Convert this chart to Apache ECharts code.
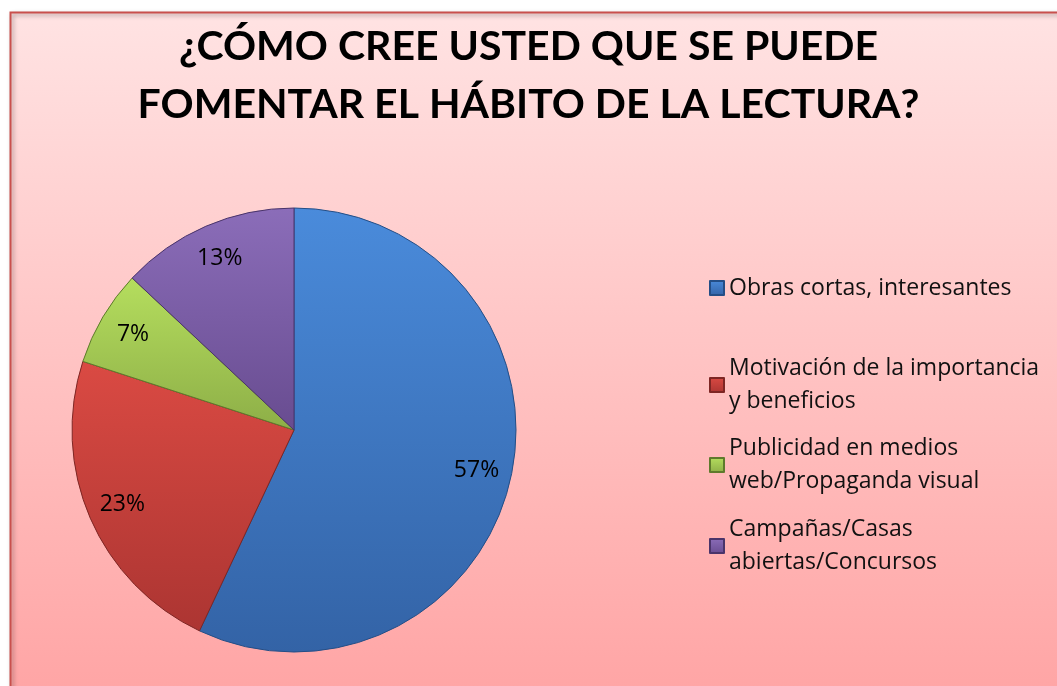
<!DOCTYPE html>
<html>
<head>
<meta charset="utf-8">
<script src="https://cdn.jsdelivr.net/npm/echarts@6/dist/echarts.min.js"></script>
<style>
html,body{margin:0;padding:0;background:#fff;}
#c{width:1057px;height:686px;}
</style>
</head>
<body>
<div id="c"></div>
<script>
var titleText = '¿CÓMO CREE USTED QUE SE PUEDE\nFOMENTAR EL HÁBITO DE LA LECTURA?';
var categories = [
  'Obras cortas, interesantes',
  'Motivación de la importancia\ny beneficios',
  'Publicidad en medios\nweb/Propaganda visual',
  'Campañas/Casas\nabiertas/Concursos'
];
var values = [57, 23, 7, 13];

var TFONT = 'Lato, "Open Sans", sans-serif';
var FONT = '"Open Sans", Lato, sans-serif';
var sliceColors = [
  ['#4A8BDB', '#3363A6', '#244E86'],
  ['#DA4A43', '#AC3532', '#7E2624'],
  ['#B5DE5E', '#8DAE47', '#5F7A2C'],
  ['#8B6DB9', '#684C90', '#4A346A']
];
function grad(c) {
  return new echarts.graphic.LinearGradient(0, 0, 0, 1, [
    {offset: 0, color: c[0]}, {offset: 1, color: c[1]}
  ]);
}
var pieData = categories.map(function (n, i) {
  return {name: n, value: values[i],
    itemStyle: {color: grad(sliceColors[i]), borderColor: sliceColors[i][2], borderWidth: 1}};
});
var labelData = categories.map(function (n, i) {
  return {name: n, value: values[i]};
});

// legend: first text line centre positions (layout)
var legendLineCenters = [286, 367, 447, 528];
var LH = 33;
var legends = categories.map(function (n, i) {
  var twoLine = n.indexOf('\n') >= 0;
  return {
    orient: 'vertical',
    left: 704,
    top: legendLineCenters[i] - (twoLine ? 36.5 : 19.5),
    itemWidth: 14, itemHeight: 14, itemGap: 0,
    icon: 'rect',
    selectedMode: false,
    data: [{name: n}],
    textStyle: {
      fontFamily: FONT, fontSize: 23, color: '#111', lineHeight: LH,
      padding: twoLine ? [LH, 0, 0, 0] : 0
    }
  };
});

var chart = echarts.init(document.getElementById('c'));
chart.setOption({
  animation: false,
  graphic: [{
    type: 'rect', z: -10,
    shape: {x: 10.5, y: 12.5, width: 1100, height: 700},
    style: {
      fill: new echarts.graphic.LinearGradient(0, 0, 0, 1, [
        {offset: 0, color: '#FFE3E3'}, {offset: 1, color: '#FFA3A3'}
      ], false),
      stroke: '#C9504D', lineWidth: 2,
      shadowBlur: 4, shadowColor: 'rgba(0,0,0,0.35)', shadowOffsetX: 2, shadowOffsetY: 2
    }
  }],
  title: {
    text: titleText,
    left: 'center', top: 13,
    padding: [5, 5, 5, 12],
    textStyle: {fontFamily: TFONT, fontWeight: 'bold', fontSize: 41, lineHeight: 58, color: '#000'}
  },
  legend: legends,
  series: [{
    type: 'pie',
    center: [294, 430], radius: [0, 222],
    startAngle: 90, clockwise: true,
    silent: true,
    label: {show: false}, labelLine: {show: false},
    data: pieData
  }, {
    type: 'pie',
    center: [294, 430], radius: [148, 220],
    startAngle: 90, clockwise: true,
    silent: true, z: 5,
    legendHoverLink: false,
    itemStyle: {color: 'rgba(0,0,0,0)', borderWidth: 0},
    label: {show: true, position: 'inside', formatter: '{c}%', fontFamily: FONT, fontSize: 23, color: '#000'},
    labelLine: {show: false},
    data: labelData
  }]
});
</script>
</body>
</html>
